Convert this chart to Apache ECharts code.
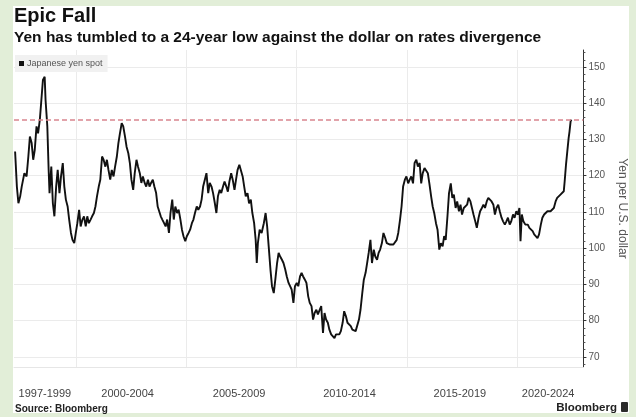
<!DOCTYPE html>
<html>
<head>
<meta charset="utf-8">
<script src="https://cdn.jsdelivr.net/npm/echarts@6/dist/echarts.min.js"></script>
<style>
  html, body { margin: 0; padding: 0; background: #e2eed8; }
  #chart { width: 636px; height: 417px; }
</style>
</head>
<body>
<div id="chart"></div>
<script>
// USD/JPY spot, sampled as decimal years
const years = [
  1997.25, 1997.28, 1997.33, 1997.40, 1997.48, 1997.55, 1997.67, 1997.77, 1997.85, 1997.92,
  1998.00, 1998.07, 1998.14, 1998.22, 1998.29, 1998.37, 1998.44, 1998.51, 1998.59, 1998.63,
  1998.71, 1998.77, 1998.81, 1998.89, 1998.96, 1999.03, 1999.11, 1999.18, 1999.26, 1999.33,
  1999.41, 1999.48, 1999.55, 1999.63, 1999.70, 1999.78, 1999.85, 1999.93, 2000.00, 2000.07,
  2000.15, 2000.22, 2000.30, 2000.37, 2000.45, 2000.52, 2000.59, 2000.67, 2000.74, 2000.82,
  2000.89, 2000.96, 2001.04, 2001.11, 2001.19, 2001.26, 2001.34, 2001.41, 2001.48, 2001.56,
  2001.63, 2001.71, 2001.78, 2001.86, 2001.93, 2002.00, 2002.08, 2002.15, 2002.23, 2002.30,
  2002.38, 2002.45, 2002.52, 2002.60, 2002.67, 2002.75, 2002.82, 2002.90, 2002.97, 2003.04,
  2003.12, 2003.19, 2003.27, 2003.34, 2003.41, 2003.49, 2003.56, 2003.64, 2003.71,
  2003.85, 2003.92, 2004.00, 2004.07, 2004.14, 2004.22, 2004.29, 2004.37, 2004.44, 2004.51,
  2004.59, 2004.66, 2004.74, 2004.81, 2004.88, 2004.96, 2005.03, 2005.11, 2005.18, 2005.26,
  2005.33, 2005.40, 2005.48, 2005.55, 2005.63, 2005.70, 2005.77, 2005.85, 2005.92, 2006.00,
  2006.07, 2006.15, 2006.22, 2006.30, 2006.37, 2006.44, 2006.52, 2006.59, 2006.67, 2006.74,
  2006.82, 2006.89, 2006.96, 2007.04, 2007.11, 2007.19, 2007.26, 2007.33, 2007.41, 2007.48,
  2007.56, 2007.63, 2007.70, 2007.78, 2007.85, 2007.93, 2008.00, 2008.08, 2008.15, 2008.20,
  2008.25, 2008.33, 2008.42, 2008.52, 2008.60, 2008.67, 2008.74, 2008.82, 2008.89, 2008.97,
  2009.04, 2009.12, 2009.19, 2009.26, 2009.34, 2009.41, 2009.49, 2009.56, 2009.64, 2009.71,
  2009.78, 2009.86, 2009.93, 2010.01, 2010.08, 2010.16, 2010.23, 2010.30,
  2010.38, 2010.45, 2010.53, 2010.60, 2010.68, 2010.75, 2010.82, 2010.90, 2010.97, 2011.05,
  2011.12, 2011.20, 2011.27, 2011.34, 2011.42, 2011.49, 2011.57, 2011.64, 2011.72, 2011.79,
  2011.86, 2011.94, 2012.01, 2012.09, 2012.16, 2012.24, 2012.31, 2012.38, 2012.46, 2012.53,
  2012.61, 2012.68, 2012.75, 2012.83, 2012.90, 2012.98, 2013.05, 2013.13, 2013.20, 2013.27,
  2013.35, 2013.42, 2013.50, 2013.57, 2013.65, 2013.72, 2013.79, 2013.87, 2013.94, 2014.02,
  2014.09, 2014.16, 2014.24, 2014.31, 2014.39, 2014.46, 2014.54, 2014.61, 2014.69, 2014.76,
  2014.83, 2014.91, 2014.98, 2015.06, 2015.13, 2015.20, 2015.28, 2015.35, 2015.43, 2015.50,
  2015.58, 2015.65, 2015.72, 2015.80, 2015.87, 2015.95, 2016.02, 2016.10, 2016.17, 2016.24,
  2016.32, 2016.39, 2016.47, 2016.54, 2016.62, 2016.69, 2016.76, 2016.84, 2016.91, 2016.99,
  2017.06, 2017.13, 2017.21, 2017.28, 2017.36, 2017.43, 2017.50, 2017.58, 2017.65, 2017.73,
  2017.80, 2017.88, 2017.95, 2018.02, 2018.10, 2018.17, 2018.25, 2018.32, 2018.40, 2018.47,
  2018.54, 2018.62, 2018.69, 2018.77, 2018.84, 2018.92, 2018.99, 2019.06, 2019.14, 2019.21,
  2019.29, 2019.36, 2019.44, 2019.51, 2019.58, 2019.66, 2019.73, 2019.81, 2019.88, 2019.96,
  2020.03, 2020.10, 2020.15, 2020.21, 2020.28, 2020.37, 2020.48, 2020.55, 2020.62, 2020.70,
  2020.77, 2020.85, 2020.92, 2020.99, 2021.07, 2021.14, 2021.22, 2021.29, 2021.37, 2021.44,
  2021.51, 2021.59, 2021.66, 2021.74, 2021.81, 2021.89, 2021.96, 2022.03, 2022.11, 2022.15,
  2022.21, 2022.27, 2022.33, 2022.37, 2022.42, 2022.45
];

const yenPerDollar = [
  126.7, 126.2, 117.0, 112.4, 114.3, 117.0, 120.7, 119.8, 125.3, 130.8,
  129.0, 124.4, 127.1, 133.6, 131.7, 135.4, 140.9, 146.4, 147.3, 140.9,
  133.6, 121.6, 115.2, 122.5, 112.4, 108.8, 117.0, 121.6, 115.2, 119.8,
  123.5, 117.0, 113.4, 111.5, 107.9, 104.2, 102.3, 101.4, 104.2, 106.9,
  110.6, 106.0, 107.9, 108.8, 106.0, 108.8, 106.9, 107.9, 108.8, 109.7,
  111.5, 114.3, 117.0, 118.9, 125.3, 124.4, 122.5, 124.4, 121.6, 118.9,
  121.6, 119.8, 122.5, 125.3, 129.0, 131.7, 134.5, 133.6, 130.8, 128.0,
  126.2, 123.5, 118.9, 116.1, 120.7, 124.4, 122.5, 120.7, 118.0, 119.8,
  118.0, 117.0, 118.9, 117.0, 118.0, 118.9, 117.0, 115.2, 111.5,
  108.8, 107.9, 106.9, 106.0, 107.9, 104.2, 109.7, 113.4, 107.9, 111.5,
  109.7, 110.6, 107.9, 105.1, 103.3, 101.9, 103.3, 104.2, 105.1, 106.9,
  107.9, 109.7, 111.5, 110.6, 111.5, 113.4, 117.0, 116.6, 120.7, 115.2,
  118.0, 117.0, 115.2, 112.4, 109.7, 114.3, 116.1, 115.2, 117.0, 118.4,
  117.0, 115.6, 118.4, 120.7, 118.9, 116.1, 118.9, 121.6, 123.0, 122.5,
  119.8, 117.0, 114.3, 115.2, 112.4, 113.4, 109.7, 106.9, 102.3, 95.9,
  101.4, 105.1, 104.2, 106.9, 109.7, 106.0, 100.5, 94.1, 89.5, 87.6,
  91.3, 95.9, 98.7, 97.7, 96.8, 95.9, 94.1, 92.2, 90.4, 89.5,
  88.6, 84.9, 89.5, 90.4, 89.5, 92.2, 93.2, 92.2,
  91.3, 90.4, 86.7, 84.9, 84.0, 80.3, 82.1, 83.0, 81.7, 83.0,
  84.0, 76.6, 82.1, 80.3, 79.4, 77.5, 76.2, 76.6, 75.2, 76.2,
  75.7, 76.2, 77.1, 79.4, 82.6, 81.2, 79.4, 78.9, 78.5, 77.5,
  77.1, 77.1, 77.5, 80.3, 83.0, 87.6, 91.3, 93.2, 95.9, 98.7,
  102.3, 95.9, 99.6, 97.7, 96.8, 98.7, 99.6, 101.4, 104.2, 102.8,
  101.4, 101.9, 101.0, 101.4, 101.0, 101.4, 102.3, 104.2, 107.8, 111.5,
  117.0, 118.9, 119.8, 117.9, 118.9, 119.8, 117.9, 123.5, 124.4, 122.5,
  123.5, 117.9, 120.7, 122.1, 122.5, 120.7, 117.9, 114.3, 111.5, 109.7,
  106.9, 105.1, 99.6, 101.4, 100.5, 103.3, 102.3, 108.8, 115.2, 117.9,
  113.9, 114.8, 111.1, 112.9, 110.2, 112.0, 109.3, 111.1, 111.1, 112.0,
  113.9, 112.9, 111.1, 109.3, 107.4, 105.6, 108.4, 110.2, 111.1, 112.0,
  111.1, 112.9, 113.9, 113.9, 112.9, 112.0, 109.3, 111.1, 112.0, 110.2,
  108.4, 107.4, 106.5, 107.4, 108.4, 106.5, 107.4, 109.3, 108.4, 110.2,
  109.3, 111.1, 101.9, 109.3, 107.4, 106.5, 106.5, 105.6, 105.1, 104.7,
  103.8, 103.3, 102.8, 103.8, 106.5, 108.4, 109.3, 109.7, 110.2, 109.7,
  110.2, 110.2, 111.1, 112.9, 113.9, 113.9, 114.8, 114.8, 115.7, 118.4,
  123.0, 126.7, 130.4, 132.2, 135.0, 135.5
];

// Period labels sit in the middle of each band between year gridlines
const periodLabels = ['1997-1999', '2000-2004', '2005-2009', '2010-2014', '2015-2019', '2020-2024'];
const periodLabelAt = [1998.6, 2002.35, 2007.4, 2012.4, 2017.4, 2021.4];
const yearGridlines = [2000, 2005, 2010, 2015, 2020];

const yTicks = [70, 80, 90, 100, 110, 120, 130, 140, 150];
const yMinorTicks = [68, 72, 74, 76, 78, 82, 84, 86, 88, 92, 94, 96, 98, 102, 104, 106, 108,
  112, 114, 116, 118, 122, 124, 126, 128, 132, 134, 136, 138, 142, 144, 146, 148, 152, 154];

// Latest level, drawn as a dashed reference line
const latestLevel = 135.5;

const seriesName = 'Japanese yen spot';
const FONT = 'Liberation Sans';

const chart = echarts.init(document.getElementById('chart'), null, { renderer: 'canvas' });

chart.setOption({
  backgroundColor: '#e2eed8',
  animation: false,
  graphic: [
    {
      type: 'rect', z: -100, silent: true,
      shape: { x: 13, y: 6, width: 616, height: 407 },
      style: { fill: '#ffffff' }
    },
    {
      type: 'rect', z: 10, silent: true,
      shape: { x: 621, y: 402, width: 7, height: 10, r: 1 },
      style: { fill: '#2b2b2b' }
    }
  ],
  title: [
    {
      text: 'Epic Fall',
      subtext: 'Yen has tumbled to a 24-year low against the dollar on rates divergence',
      left: 14, top: 6, itemGap: 4, padding: 0,
      textStyle: { fontFamily: FONT, fontSize: 20, fontWeight: 'bold', color: '#111' },
      subtextStyle: { fontFamily: FONT, fontSize: 15.5, fontWeight: 'bold', color: '#111' }
    },
    {
      text: 'Source: Bloomberg',
      left: 15, top: 404, padding: 0,
      textStyle: { fontFamily: FONT, fontSize: 10, fontWeight: 'bold', color: '#222' }
    },
    {
      text: 'Bloomberg',
      right: 19, top: 402, padding: 0,
      textStyle: { fontFamily: FONT, fontSize: 11.5, fontWeight: 'bold', color: '#222' }
    }
  ],
  legend: {
    left: 15, top: 55,
    data: [seriesName],
    icon: 'rect', itemWidth: 5, itemHeight: 5, itemGap: 4,
    padding: [4, 5, 4, 4],
    backgroundColor: '#f1f1f1',
    textStyle: { fontFamily: FONT, fontSize: 9, color: '#555', padding: [0, 0, 0, -2] }
  },
  grid: { left: 14, right: 43, top: 50, bottom: 50 },
  xAxis: {
    type: 'value',
    min: 1997.2, max: 2023.0,
    axisLine: { show: true, lineStyle: { color: '#e6e6e6' } },
    axisTick: { show: false, customValues: yearGridlines },
    splitLine: { show: true, lineStyle: { color: '#ebebeb', width: 1 } },
    axisLabel: {
      customValues: periodLabelAt,
      margin: 21,
      fontFamily: FONT, fontSize: 11, color: '#444',
      formatter: function (v) {
        let best = 0;
        periodLabelAt.forEach(function (p, i) {
          if (Math.abs(p - v) < Math.abs(periodLabelAt[best] - v)) best = i;
        });
        return periodLabels[best];
      }
    }
  },
  yAxis: [
    {
      type: 'value', position: 'right',
      min: 67.2, max: 154.7,
      axisLine: { show: true, lineStyle: { color: '#333', width: 1 } },
      axisTick: { show: true, length: 3, customValues: yTicks, lineStyle: { color: '#333' } },
      axisLabel: { customValues: yTicks, margin: 5, fontFamily: FONT, fontSize: 10, color: '#555' },
      splitLine: { show: true, lineStyle: { color: '#ebebeb', width: 1 } },
      name: 'Yen per U.S. dollar',
      nameLocation: 'middle', nameRotate: -90, nameGap: 26,
      nameTextStyle: { fontFamily: FONT, fontSize: 12, color: '#555' }
    },
    {
      type: 'value', position: 'right',
      min: 67.2, max: 154.7,
      axisLine: { show: false },
      axisTick: { show: true, length: 2, customValues: yMinorTicks, lineStyle: { color: '#555' } },
      axisLabel: { show: false },
      splitLine: { show: false }
    }
  ],
  series: [
    {
      name: seriesName,
      type: 'line',
      yAxisIndex: 0,
      data: years.map(function (y, i) { return [y, yenPerDollar[i]]; }),
      showSymbol: false,
      symbol: 'none',
      lineStyle: { color: '#111', width: 1.9 },
      itemStyle: { color: '#111' },
      z: 3,
      markLine: {
        silent: true,
        symbol: 'none',
        label: { show: false },
        lineStyle: { color: '#d9858f', type: [5, 3], width: 1.5 },
        data: [{ yAxis: latestLevel }]
      }
    }
  ]
});
</script>
</body>
</html>
